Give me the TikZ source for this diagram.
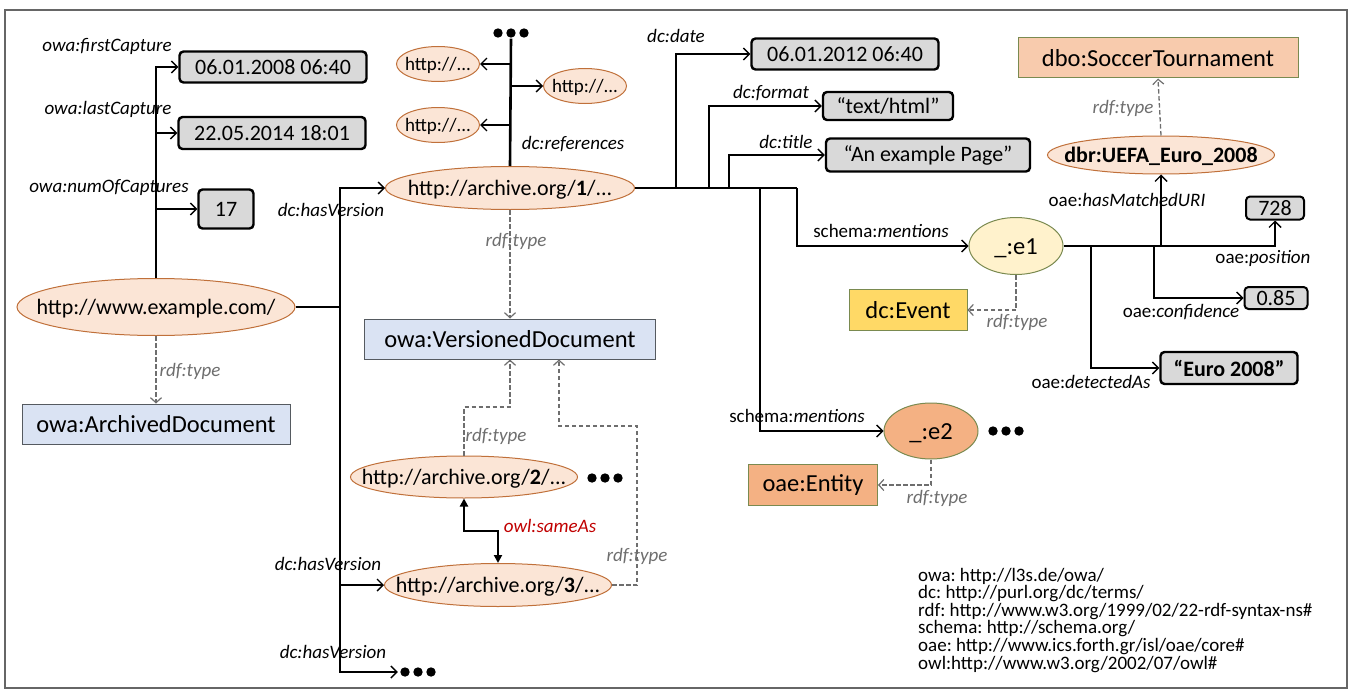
\documentclass[tikz,border=0pt]{standalone}
\usepackage{fontspec}
\setmainfont{Carlito}
\usetikzlibrary{shapes.geometric,arrows.meta}
\definecolor{urifill}{HTML}{FBE5D6}
\definecolor{uriborder}{HTML}{C0703A}
\definecolor{clsfill}{HTML}{DAE3F3}
\definecolor{clsborder}{HTML}{555A60}
\definecolor{litfill}{HTML}{D9D9D9}
\definecolor{evfill}{HTML}{FFF2CC}
\definecolor{greenborder}{HTML}{7A8A50}
\definecolor{entfill}{HTML}{F4B183}
\definecolor{eventfill}{HTML}{FFD966}
\definecolor{socfill}{HTML}{F8CBAD}
\definecolor{typegray}{HTML}{6E6E6E}
\definecolor{samered}{HTML}{C00000}
\newcommand{\et}[1]{\raisebox{-0.33em}[0pt][0pt]{\makebox[0pt]{#1}}}
\frenchspacing
\begin{document}
\frenchspacing
\begin{tikzpicture}[x=1pt,y=-1pt,
  nodefont/.style={font=\fontsize{22}{26}\selectfont},
  uri/.style={ellipse,draw=uriborder,fill=urifill,line width=1pt,inner sep=0,nodefont},
  smalluri/.style={uri,font=\fontsize{19}{22}\selectfont},
  cls/.style={rectangle,draw=clsborder,fill=clsfill,line width=1pt,inner sep=0,font=\fontsize{24.5}{28}\selectfont},
  lit/.style={rectangle,rounded corners=4pt,draw=black,fill=litfill,line width=2.4pt,inner sep=0,nodefont},
  blank/.style={ellipse,draw=greenborder,line width=1pt,inner sep=0,font=\fontsize{24.5}{28}\selectfont},
  gcls/.style={rectangle,draw=greenborder,line width=1pt,inner sep=0,font=\fontsize{24.5}{28}\selectfont},
  lbl/.style={inner sep=0,font=\fontsize{19}{22}\selectfont\itshape,text height=13pt,text depth=4pt},
  plbl/.style={inner sep=0,font=\fontsize{19}{22}\selectfont,text height=13pt,text depth=4pt},
  tlbl/.style={lbl,text=typegray},
  rel/.style={line width=1.6pt,-{Straight Barb[length=6pt,width=12pt,line width=1.4pt]}},
  trunk/.style={line width=2.6pt},
  thin/.style={line width=1.6pt},
  typ/.style={draw=typegray,line width=1.3pt,dash pattern=on 4.5pt off 2.5pt,-{Straight Barb[length=5pt,width=11pt,line width=1.2pt]}},
  same/.style={line width=2.6pt,{Triangle[length=8pt,width=8pt]}-{Triangle[length=8pt,width=8pt]}},
  dotsnode/.style={minimum width=40pt,minimum height=11pt,inner sep=0,
    path picture={\fill (path picture bounding box.center) circle (4.7pt) ++(-13pt,0pt) circle (4.7pt) ++(26pt,0pt) circle (4.7pt);}}
]
\useasboundingbox (0,0) rectangle (1352,693);
\draw[draw=gray!80!black,line width=1.2pt] (5,10) rectangle (1347,688);

% nodes
\node[uri,minimum width=278pt,minimum height=57pt] (ex) at (156,307) {\et{http://www.example.com/}};
\node[cls,minimum width=268pt,minimum height=40pt] (arch) at (156,424) {owa:ArchivedDocument};
\node[lit,minimum width=187pt,minimum height=31pt] (fc) at (273,67) {06.01.2008 06:40};
\node[lit,minimum width=187pt,minimum height=32pt] (lcap) at (272,133) {22.05.2014 18:01};
\node[lit,minimum width=55pt,minimum height=39pt] (n17) at (226,209) {17};

\node[uri,minimum width=249pt,minimum height=43pt] (a1) at (510,188) {\et{http://archive.org/\textbf{1}/...}};
\node[smalluri,minimum width=83pt,minimum height=35pt] (h1) at (438,64) {\et{http://...}};
\node[smalluri,minimum width=83pt,minimum height=35pt] (h2) at (585,86) {\et{http://...}};
\node[smalluri,minimum width=83pt,minimum height=35pt] (h3) at (438,125) {\et{http://...}};
\node[dotsnode] (dtop) at (511,33) {};
\node[cls,minimum width=291pt,minimum height=40pt] (ver) at (510,339) {owa:VersionedDocument};
\node[uri,minimum width=227pt,minimum height=42pt] (a2) at (464,477) {\et{http://archive.org/\textbf{2}/...}};
\node[uri,minimum width=227pt,minimum height=43pt] (a3) at (498,585) {\et{http://archive.org/\textbf{3}/...}};
\node[dotsnode] (d2) at (605,478) {};
\node[dotsnode] (dvers) at (418,672) {};

\node[lit,minimum width=187pt,minimum height=31pt] (date) at (845,54) {06.01.2012 06:40};
\node[lit,minimum width=130pt,minimum height=28pt] (fmt) at (888,106) {“text/html”};
\node[lit,minimum width=204pt,minimum height=33pt] (title) at (928,155) {“An example Page”};

\node[gcls,fill=socfill,minimum width=280pt,minimum height=40pt] (soc) at (1158,58) {dbo:SoccerTournament};
\node[uri,minimum width=227pt,minimum height=38pt] (dbr) at (1161,155) {\et{\textbf{dbr:UEFA\_Euro\_2008}}};
\node[blank,fill=evfill,minimum width=94pt,minimum height=57pt] (e1) at (1016,246) {\et{\_:e1}};
\node[gcls,fill=eventfill,minimum width=118pt,minimum height=41pt] (ev) at (908,310) {dc:Event};
\node[blank,fill=entfill,minimum width=94pt,minimum height=56pt] (e2) at (931,431) {\et{\_:e2}};
\node[dotsnode] (d3) at (1006,431) {};
\node[gcls,fill=entfill,minimum width=129pt,minimum height=41pt] (ent) at (813,485) {oae:Entity};
\node[lit,line width=2pt,minimum width=58pt,minimum height=23pt] (p728) at (1275,208) {728};
\node[lit,line width=2pt,minimum width=63pt,minimum height=22pt] (conf) at (1276,298) {0.85};
\node[lit,minimum width=137pt,minimum height=32pt] (euro) at (1229,368) {\textbf{“Euro 2008”}};

% coordinates
\coordinate (hv) at (340,307);
\coordinate (b1) at (676,188);
\coordinate (b2) at (709,188);
\coordinate (b3) at (729,188);
\coordinate (b4) at (760,188);
\coordinate (b5) at (797,188);
\coordinate (c1) at (1091,246);
\coordinate (c2) at (1161,246);
\coordinate (c3) at (1154,246);
\coordinate (k1) at (510,407);
\coordinate (k2) at (637,426);
\coordinate (k4) at (498,531);

% left subject
\draw[rel] (ex.north) |- (fc.west);
\draw[rel] (ex.north) |- (lcap.west);
\draw[rel] (ex.north) |- (n17.west);
\draw[typ] (ex.south) -- (arch.north);
\draw[trunk] (ex.east) -- (hv);
\draw[rel] (hv) |- (a1.west);
\draw[rel] (hv) |- (a3.west);
\draw[rel] (hv) |- (dvers.west);

% archive 1
\draw[trunk] (a1.north) -- (dtop.south);
\draw[rel] (a1.north |- h1.east) -- (h1.east);
\draw[rel] (a1.north |- h2.west) -- (h2.west);
\draw[rel] (a1.north |- h3.east) -- (h3.east);
\draw[typ] (a1.south) -- (ver.north);
\draw[trunk] (a1.east) -- (b3);
\draw[thin] (b3) -- (b5);
\draw[rel] (b1) |- (date.west);
\draw[rel] (b2) |- (fmt.west);
\draw[rel] (b3) |- (title.west);
\draw[rel] (b4) |- (e2.west);
\draw[rel] (b5) |- (e1.west);

% versions
\draw[typ] (a2.north) |- (k1) -- (ver.south);
\draw[typ] (a3.east) -| (k2) -| ([xshift=49pt]ver.south);
\draw[same] (a2.south) |- (k4) -- (a3.north);

% e1
\draw[trunk] (e1.east) -- (c2);
\draw[rel] (c2) -| (p728.south);
\draw[rel] (c2) -- (dbr.south);
\draw[rel] (c3) |- (conf.west);
\draw[rel] (c1) |- (euro.west);
\draw[typ] (dbr.north) -- (soc.south);
\draw[typ] (e1.south) |- (ev.east);
\draw[typ] (e2.south) |- (ent.east);

% labels
\node[lbl] (l1) at (107,47) {owa:firstCapture};
\node[lbl] (l2) at (108,110) {owa:lastCapture};
\node[lbl] (l3) at (109,188) {owa:numOfCaptures};
\node[lbl] (l4) at (331,212) {dc:hasVersion};
\node[lbl] (l5) at (328,566) {dc:hasVersion};
\node[lbl] (l6) at (333,654) {dc:hasVersion};
\node[lbl] (l7) at (573,145) {dc:references};
\node[tlbl] (t1) at (516,242) {rdf:type};
\node[tlbl] (t2) at (190,372) {rdf:type};
\node[tlbl] (t3) at (496,437) {rdf:type};
\node[tlbl] (t4) at (637,557) {rdf:type};
\node[lbl,text=samered] (l8) at (550,528) {owl:sameAs};
\node[lbl] (l9) at (676,38) {dc:date};
\node[lbl] (l10) at (771,94) {dc:format};
\node[lbl] (l11) at (786,144) {dc:title};
\node[plbl] (l12) at (881,233) {schema:\textit{mentions}};
\node[plbl] (l13) at (797,418) {schema:\textit{mentions}};
\node[tlbl] (t5) at (1017,323) {rdf:type};
\node[tlbl] (t6) at (937,499) {rdf:type};
\node[tlbl] (t7) at (1123,109) {rdf:type};
\node[plbl] (l14) at (1127,202) {oae:\textit{hasMatchedURI}};
\node[plbl] (l15) at (1263,259) {oae:\textit{position}};
\node[plbl] (l16) at (1181,313) {oae:\textit{confidence}};
\node[plbl] (l17) at (1091,384) {oae:\textit{detectedAs}};

% legend
\node[anchor=north west,inner sep=0,align=left,font=\fontsize{19}{14.5}\selectfont\frenchspacing] (legend) at (918,568)
{owa: http://l3s.de/owa/\\
dc: http://purl.org/dc/terms/\\
rdf: http://www.w3.org/1999/02/22-rdf-syntax-ns\#\\
schema: http://schema.org/\\
oae: http://www.ics.forth.gr/isl/oae/core\#\\[1.5pt]
owl:http://www.w3.org/2002/07/owl\#};
\end{tikzpicture}
\end{document}
